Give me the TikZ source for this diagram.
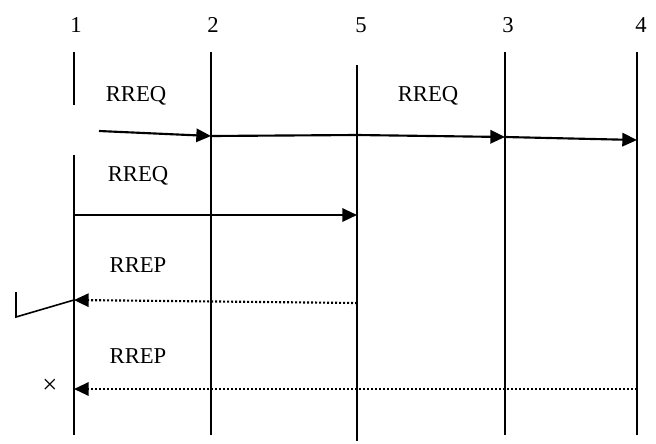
\documentclass[tikz,border=0pt]{standalone}
\usepackage{fontspec}
\setmainfont{Liberation Serif}
\usetikzlibrary{arrows.meta}
\begin{document}
\begin{tikzpicture}[x=0.75pt,y=-0.75pt,
  lifeline/.style={line width=1.3pt},
  msg/.style={line width=1.6pt,-{Triangle[length=11pt,width=10pt]}},
  plain/.style={line width=1.6pt},
  reply/.style={line width=1.6pt,dash pattern=on 1.4pt off 1.6pt,-{Triangle[length=11pt,width=10pt]}},
  lbl/.style={font=\fontsize{17pt}{19pt}\selectfont,inner sep=0pt},
  num/.style={font=\fontsize{17pt}{19pt}\selectfont,inner sep=0pt}]
\useasboundingbox (0,0) rectangle (656,443);
% node labels
\node[num] (n1) at (76,25) {1};
\node[num] (n2) at (213,25) {2};
\node[num] (n5) at (361,25) {5};
\node[num] (n3) at (508,25) {3};
\node[num] (n4) at (641,25) {4};
% lifelines
\coordinate (a1) at (74,52);  \coordinate (b1) at (74,105);
\coordinate (c1) at (74,155); \coordinate (d1) at (74,435);
\coordinate (a2) at (211,52); \coordinate (d2) at (211,435);
\coordinate (a5) at (357,65); \coordinate (d5) at (357,441);
\coordinate (a3) at (505,52); \coordinate (d3) at (505,435);
\coordinate (a4) at (637,52); \coordinate (d4) at (637,435);
\draw[lifeline] (a1) -- (b1) (c1) -- (d1);
\draw[lifeline] (a2) -- (d2);
\draw[lifeline] (a5) -- (d5);
\draw[lifeline] (a3) -- (d3);
\draw[lifeline] (a4) -- (d4);
% first broadcast
\coordinate (s0) at (99,131);
\coordinate (p2) at (211,136);
\coordinate (p5) at (357,135);
\coordinate (p3) at (505,137);
\coordinate (p4) at (637,140);
\draw[msg] (s0) -- (p2);
\draw[plain] (p2) -- (p5);
\draw[msg] (p5) -- (p3);
\draw[msg] (p3) -- (p4);
\node[lbl] (q1) at (136,96) {RREQ};
\node[lbl] (q2) at (428,96) {RREQ};
% direct request
\coordinate (r1) at (74,215);
\coordinate (r5) at (357,215);
\draw[msg] (r1) -- (r5);
\node[lbl] (q3) at (138,176) {RREQ};
% replies
\node[lbl] (p1lbl) at (138,265) {RREP};
\coordinate (e5) at (357,303);
\coordinate (e1) at (74,300);
\draw[reply] (e5) -- (e1);
\coordinate (k1) at (16,292);
\coordinate (k2) at (16,317);
\draw[line width=1.2pt] (k1) -- (k2) -- (e1);
\node[lbl] (p2lbl) at (138,356) {RREP};
\node[font=\fontsize{20pt}{22pt}\selectfont,inner sep=0pt] (x) at (50,386) {×};
\coordinate (f4) at (637,389);
\coordinate (f1) at (74,389);
\draw[reply] (f4) -- (f1);
\end{tikzpicture}
\end{document}
